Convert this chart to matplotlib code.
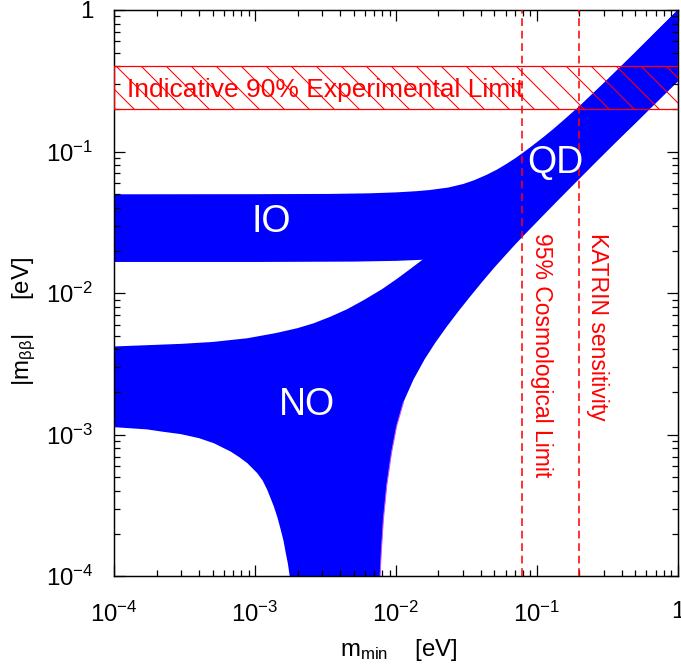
import numpy as np
import matplotlib
matplotlib.use("Agg")
import matplotlib.pyplot as plt
from matplotlib.ticker import FuncFormatter, NullFormatter, LogLocator

plt.rcParams['font.family'] = ['Liberation Sans', 'DejaVu Sans']
plt.rcParams['mathtext.fontset'] = 'custom'
plt.rcParams['mathtext.rm'] = 'Liberation Sans'
plt.rcParams['mathtext.it'] = 'Liberation Sans:italic'
plt.rcParams['mathtext.bf'] = 'Liberation Sans:bold'
plt.rcParams['hatch.linewidth'] = 0.5

#-------------------------------------------------------------------------------
# DATA
#-------------------------------------------------------------------------------
# normal ordering, upper edge
no_up_x = [1e-4, 2.96e-4, 5e-4, 8.8e-4, 1.4e-3, 1.99e-3, 2.6e-3, 3.43e-3, 4.5e-3,
           5.93e-3, 8e-3, 1.025e-2, 1.25e-2, 1.54e-2, 2e-2, 3e-2, 5e-2, 0.1,
           0.2, 0.5, 1.0]
no_up_y = [0.0042, 0.00438, 0.00452, 0.0048, 0.00522, 0.00565, 0.00612, 0.00682,
           0.0077, 0.00895, 0.0107, 0.0127, 0.0147, 0.0172, 0.021, 0.031, 0.051,
           0.101, 0.201, 0.501, 1.0]
# normal ordering, lower edge (1e-5 = full cancellation, below the plot)
no_lo_x = [1e-4, 1.71e-4, 2.2e-4, 2.96e-4, 4e-4, 5.1e-4, 6.7e-4, 7.7e-4, 8.8e-4,
           1.035e-3, 1.13e-3, 1.22e-3, 1.36e-3, 1.44e-3, 1.52e-3, 1.59e-3,
           1.65e-3, 1.71e-3, 1.76e-3, 1.85e-3,
           7.6e-3, 7.71e-3, 7.85e-3, 8.13e-3, 8.6e-3, 9.3e-3, 1.01e-2, 1.13e-2,
           1.33e-2, 1.6e-2, 1.9e-2, 2.29e-2, 2.8e-2, 3.35e-2, 4.06e-2, 5e-2,
           5.77e-2, 7e-2, 8e-2, 0.111, 0.14, 0.171, 0.25, 0.4, 0.632, 1.0]
no_lo_y = [1.13e-3, 1.09e-3, 1.05e-3, 1.01e-3, 9.45e-4, 8.7e-4, 7.6e-4, 6.95e-4,
           6.3e-4, 5.35e-4, 4.75e-4, 4.07e-4, 3.1e-4, 2.6e-4, 2.13e-4, 1.78e-4,
           1.46e-4, 1.22e-4, 1.0e-4, 1e-5,
           1e-5, 1.0e-4, 1.45e-4, 2.5e-4, 4.4e-4, 7.5e-4, 1.15e-3, 1.7e-3,
           2.45e-3, 3.42e-3, 4.46e-3, 5.79e-3, 7.53e-3, 9.42e-3, 0.0119, 0.0152,
           0.0178, 0.0220, 0.0253, 0.0354, 0.0448, 0.0548, 0.0801, 0.128, 0.201,
           0.313]
# inverted ordering, upper edge
io_up_x = [1e-4, 1e-3, 3.4e-3, 6.5e-3, 1.01e-2, 1.4e-2, 1.74e-2, 2.35e-2, 3e-2,
           3.6e-2, 4.4e-2, 5.2e-2, 6.11e-2, 7e-2, 8.02e-2, 9.4e-2, 0.111, 0.13,
           0.154, 0.2, 0.3, 0.5, 0.7, 1.0]
io_up_y = [0.0499, 0.0500, 0.0502, 0.0507, 0.0515, 0.0525, 0.0535, 0.0557, 0.0590,
           0.0628, 0.0685, 0.0745, 0.0820, 0.0895, 0.0985, 0.111, 0.1262, 0.1435,
           0.166, 0.209, 0.307, 0.504, 0.703, 1.0]
# inverted ordering, lower edge
io_lo_x = [1e-4, 1e-3, 5e-3, 1e-2, 1.54e-2, 2e-2, 3e-2, 5e-2, 7e-2, 0.1, 0.2,
           0.5, 1.0]
io_lo_y = [0.0166, 0.0166, 0.0167, 0.0169, 0.0172, 0.018, 0.019, 0.022, 0.027,
           0.035, 0.066, 0.158, 0.313]

exp_limit = [0.2, 0.4]      # indicative 90% experimental limit band
cosmo_limit = 0.078         # 95% cosmological limit
katrin_limit = 0.2          # KATRIN sensitivity

#-------------------------------------------------------------------------------
# FIGURE
#-------------------------------------------------------------------------------
fig = plt.figure(figsize=(681/150, 670/150), dpi=150)
ax = fig.add_axes([0.1678, 0.1399, 0.8274, 0.8452])
ax.set_xscale('log')
ax.set_yscale('log')
ax.set_xlim(1e-4, 1)
ax.set_ylim(1e-4, 1)

blue = '#0000ff'
red = '#ff0000'

ax.fill(no_up_x + no_lo_x[::-1], no_up_y + no_lo_y[::-1], color=blue, lw=0, zorder=1)
ax.fill(io_up_x + io_lo_x[::-1], io_up_y + io_lo_y[::-1], color=blue, lw=0, zorder=1)
# thin violet rim on the right side of the NO funnel
ax.plot(no_lo_x[21:28], no_lo_y[21:28], color='#c050ff', lw=0.5, zorder=1.5)

ax.axhspan(exp_limit[0], exp_limit[1], facecolor='none', edgecolor=red,
           hatch='\\\\', lw=0.6, zorder=3)
ax.axvline(cosmo_limit, color=red, lw=0.75, dashes=(5, 3), zorder=3)
ax.axvline(katrin_limit, color=red, lw=0.75, dashes=(5, 3), zorder=3)

ax.text(1.23e-4, 0.272, 'Indicative 90% Experimental Limit', color=red,
        fontsize=12.7, ha='left', va='center', zorder=4)
ax.text(0.107, 0.0266, '95% Cosmological Limit', color=red, fontsize=11,
        rotation=270, ha='center', va='top', zorder=4)
ax.text(0.27, 0.0266, 'KATRIN sensitivity', color=red, fontsize=11,
        rotation=270, ha='center', va='top', zorder=4)

ax.text(1.31e-3, 0.032, 'IO', color='white', fontsize=18, ha='center', va='center', zorder=4)
ax.text(2.32e-3, 1.62e-3, 'NO', color='white', fontsize=18, ha='center', va='center', zorder=4)
ax.text(0.1346, 0.0827, 'QD', color='white', fontsize=18, ha='center', va='center', zorder=4)

#ticks
def fmt(v, pos):
    if abs(v - 1) < 1e-9:
        return '1'
    return r'$\mathregular{10^{%d}}$' % int(round(np.log10(v)))

for axis in (ax.xaxis, ax.yaxis):
    axis.set_major_locator(LogLocator(base=10, numticks=10))
    axis.set_minor_locator(LogLocator(base=10, subs=np.arange(2, 10), numticks=10))
    axis.set_major_formatter(FuncFormatter(fmt))
    axis.set_minor_formatter(NullFormatter())

ax.tick_params(which='both', direction='in', top=True, right=True, width=0.6,
               labelsize=11.5, pad=10)
ax.tick_params(axis='x', which='major', pad=12)
ax.tick_params(which='major', length=5.5)
ax.tick_params(which='minor', length=3)
for s in ax.spines.values():
    s.set_linewidth(0.7)

ax.set_xlabel(r'm$_{\mathregular{min}}$    [eV]', fontsize=11.5)
ax.set_ylabel(r'|m$_{\mathregular{\beta\beta}}$|     [eV]', fontsize=11.5)
ax.xaxis.set_label_coords(0.504, -0.108)
ax.yaxis.set_label_coords(-0.135, 0.449)

fig.savefig('out.png', dpi=150)
